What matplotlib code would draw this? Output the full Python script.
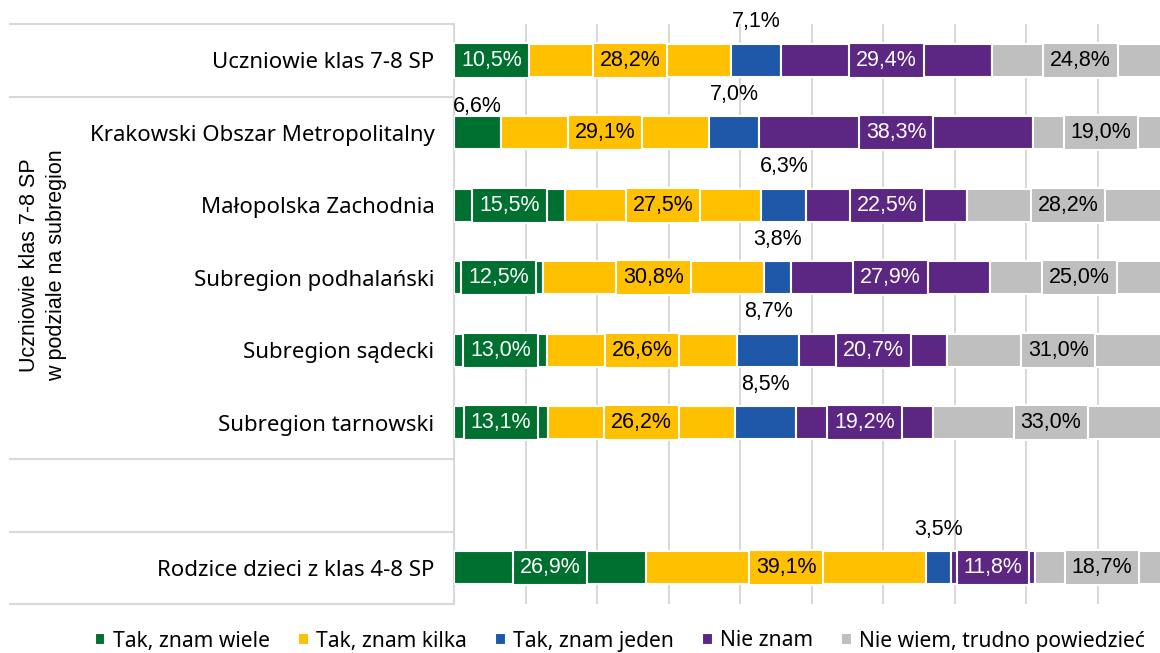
import matplotlib
matplotlib.use("Agg")
import matplotlib.pyplot as plt
import matplotlib.transforms as mtransforms
import numpy as np

plt.rcParams["font.family"] = ["Noto Sans", "DejaVu Sans"]

categories = ["Uczniowie klas 7-8 SP", "Krakowski Obszar Metropolitalny", "Małopolska Zachodnia",
              "Subregion podhalański", "Subregion sądecki", "Subregion tarnowski", "",
              "Rodzice dzieci z klas 4-8 SP"]
series = ["Tak, znam wiele", "Tak, znam kilka", "Tak, znam jeden", "Nie znam",
          "Nie wiem, trudno powiedzieć"]
znam_wiele = [10.5, 6.6, 15.5, 12.5, 13.0, 13.1, 0, 26.9]
znam_kilka = [28.2, 29.1, 27.5, 30.8, 26.6, 26.2, 0, 39.1]
znam_jeden = [7.1, 7.0, 6.3, 3.8, 8.7, 8.5, 0, 3.5]
nie_znam = [29.4, 38.3, 22.5, 27.9, 20.7, 19.2, 0, 11.8]
nie_wiem = [24.8, 19.0, 28.2, 25.0, 31.0, 33.0, 0, 18.7]
group_label = "Uczniowie klas 7-8 SP\nw podziale na subregion"

colors = ["#007030", "#FFC000", "#1F58A8", "#5C2683", "#BFBFBF"]
text_colors = ["white", "black", "black", "white", "black"]
grid_c = "#D9D9D9"
num_font = ["Liberation Sans", "DejaVu Sans"]
# labels of small segments sit above the bar; the 6,6% one was nudged lower
above_off = {(1, 0): -0.36}

W, H = 1160, 653
fig = plt.figure(figsize=(W / 100, H / 100), dpi=100)
x0, x1, y_top, y_bot = 454, 1169, 24, 604
ax = fig.add_axes([x0 / W, 1 - y_bot / H, (x1 - x0) / W, (y_bot - y_top) / H])
ax.set_xlim(0, 100)
ax.set_ylim(len(categories) - 0.5, -0.5)

data = np.array([znam_wiele, znam_kilka, znam_jeden, nie_znam, nie_wiem])
y = np.arange(len(categories))
left = np.zeros(len(categories))
for i, vals in enumerate(data):
    keep = vals > 0
    ax.barh(y[keep], vals[keep], left=left[keep], height=0.46, color=colors[i],
            edgecolor="white", linewidth=1.5, zorder=3, label=series[i])
    for r, v in enumerate(vals):
        if v == 0:
            continue
        cx = left[r] + v / 2
        txt = f"{v:.1f}%".replace(".", ",")
        if v < 10:
            ax.text(cx, r + above_off.get((r, i), -0.53), txt, ha="center", va="center",
                    fontsize=15.5, family=num_font, color="black", zorder=5)
        else:
            ax.text(cx, r, txt, ha="center", va="center", fontsize=15.5, family=num_font,
                    color=text_colors[i], zorder=5,
                    bbox=dict(boxstyle="square,pad=0.32", fc=colors[i], ec="white", lw=1.5))
    left += vals

ax.set_xticks(np.arange(0, 101, 10))
ax.set_xticklabels([])
ax.tick_params(length=0)
ax.grid(axis="x", color=grid_c, lw=1.5, zorder=0)
for s in ["top", "right", "bottom"]:
    ax.spines[s].set_visible(False)
ax.spines["left"].set_color(grid_c)
ax.spines["left"].set_linewidth(1.5)
ax.set_yticks(y)
ax.set_yticklabels(categories, fontsize=16)
ax.tick_params(axis="y", pad=14)

# table-like separators on the category side
trans = mtransforms.blended_transform_factory(ax.transAxes, ax.transData)
xl = (10 - x0) / (x1 - x0)
for yy in [-0.5, 0.5, 5.5, 6.5, 7.5]:
    ax.plot([xl, 0], [yy, yy], color=grid_c, lw=1.5, transform=trans, clip_on=False)
ax.text(43 / W, 1 - 265 / H, group_label, transform=fig.transFigure, rotation=90,
        ha="center", va="center", fontsize=15.5, family=num_font, linespacing=1.35)

fig.legend(loc="center", bbox_to_anchor=(620 / W, 1 - 641 / H), ncol=5, frameon=False,
           fontsize=15.1, handlelength=0.5, handleheight=0.5, handletextpad=0.35,
           columnspacing=1.35)

fig.savefig("out.png", dpi=100)
